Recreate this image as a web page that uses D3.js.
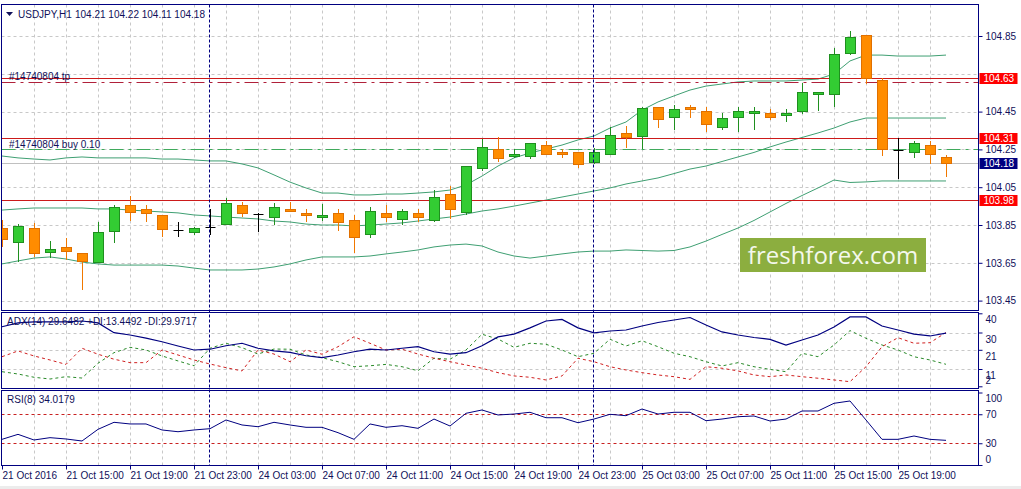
<!DOCTYPE html>
<html>
<head>
<meta charset="utf-8">
<script src="https://cdn.jsdelivr.net/npm/d3@7"></script>
<style>
  body { margin: 0; background: #fff; }
  text { font-family: "Liberation Sans", Arial, sans-serif; font-size: 10px; }
</style>
</head>
<body>
<div id="viz"></div>
<script>
// USDJPY H1, 21 Oct 11:00 .. 25 Oct 22:00 (60 bars)
const open = [103.834, 103.760, 103.834, 103.707, 103.734, 103.702, 103.654, 103.818, 103.956, 103.935,
  103.903, 103.824, 103.813, 103.839, 103.855, 103.956, 103.908, 103.892, 103.935, 103.914,
  103.892, 103.914, 103.876, 103.802, 103.914, 103.882, 103.914, 103.876, 104.014, 103.919,
  104.152, 104.252, 104.215, 104.215, 104.273, 104.236, 104.236, 104.183, 104.226, 104.337,
  104.321, 104.474, 104.421, 104.474, 104.453, 104.369, 104.421, 104.443, 104.443, 104.432,
  104.453, 104.543, 104.543, 104.760, 104.855, 104.617, 104.247, 104.236, 104.273, 104.21]
const high = [103.876, 103.855, 103.861, 103.765, 103.781, 103.702, 103.866, 103.956, 104.003, 103.956,
  103.903, 103.866, 103.839, 103.935, 103.993, 103.972, 103.914, 103.966, 103.972, 103.935,
  103.961, 103.935, 103.903, 103.945, 103.956, 103.935, 103.935, 104.035, 104.056, 104.162,
  104.305, 104.316, 104.252, 104.284, 104.294, 104.252, 104.236, 104.257, 104.369, 104.374,
  104.474, 104.474, 104.485, 104.485, 104.474, 104.443, 104.474, 104.474, 104.464, 104.464,
  104.601, 104.554, 104.787, 104.876, 104.855, 104.628, 104.310, 104.294, 104.294, 104.22]
const low = [103.739, 103.660, 103.686, 103.681, 103.670, 103.511, 103.654, 103.760, 103.876, 103.871,
  103.792, 103.792, 103.802, 103.802, 103.855, 103.898, 103.818, 103.855, 103.924, 103.871,
  103.876, 103.824, 103.707, 103.786, 103.871, 103.855, 103.871, 103.871, 103.887, 103.908,
  104.141, 104.189, 104.210, 104.205, 104.226, 104.210, 104.157, 104.178, 104.226, 104.263,
  104.257, 104.369, 104.358, 104.421, 104.347, 104.358, 104.347, 104.358, 104.411, 104.400,
  104.443, 104.458, 104.480, 104.755, 104.601, 104.220, 104.099, 104.210, 104.178, 104.11]
const close = [103.776, 103.845, 103.702, 103.723, 103.712, 103.660, 103.813, 103.945, 103.919, 103.914,
  103.829, 103.824, 103.834, 103.839, 103.966, 103.914, 103.908, 103.945, 103.924, 103.903,
  103.903, 103.866, 103.786, 103.924, 103.892, 103.924, 103.892, 103.998, 103.935, 104.162,
  104.263, 104.205, 104.226, 104.284, 104.226, 104.226, 104.173, 104.236, 104.326, 104.316,
  104.469, 104.411, 104.464, 104.464, 104.384, 104.416, 104.453, 104.453, 104.421, 104.443,
  104.554, 104.554, 104.755, 104.845, 104.628, 104.252, 104.247, 104.284, 104.226, 104.18]

// Bollinger bands
const bbUpper = [104.215, 104.205, 104.199, 104.194, 104.205, 104.210, 104.205, 104.205, 104.205, 104.205,
  104.199, 104.199, 104.194, 104.189, 104.189, 104.173, 104.152, 104.115, 104.077, 104.046,
  104.019, 104.019, 104.009, 104.009, 104.014, 104.014, 104.019, 104.025, 104.035, 104.062,
  104.109, 104.162, 104.205, 104.231, 104.252, 104.273, 104.300, 104.321, 104.363, 104.395,
  104.458, 104.501, 104.533, 104.564, 104.585, 104.596, 104.607, 104.612, 104.612, 104.612,
  104.617, 104.622, 104.649, 104.718, 104.749, 104.749, 104.744, 104.744, 104.744, 104.749]
const bbMiddle = [103.929, 103.935, 103.940, 103.940, 103.940, 103.940, 103.935, 103.935, 103.929, 103.924,
  103.919, 103.914, 103.903, 103.898, 103.892, 103.887, 103.882, 103.871, 103.866, 103.855,
  103.850, 103.850, 103.845, 103.850, 103.855, 103.861, 103.871, 103.882, 103.892, 103.908,
  103.924, 103.935, 103.950, 103.966, 103.982, 103.998, 104.014, 104.030, 104.046, 104.067,
  104.083, 104.099, 104.122, 104.146, 104.162, 104.186, 104.210, 104.234, 104.263, 104.289,
  104.313, 104.337, 104.363, 104.395, 104.416, 104.416, 104.416, 104.416, 104.416, 104.416]
const bbLower = [103.644, 103.660, 103.675, 103.681, 103.670, 103.654, 103.644, 103.638, 103.638, 103.638,
  103.638, 103.633, 103.622, 103.612, 103.612, 103.612, 103.617, 103.628, 103.644, 103.665,
  103.681, 103.681, 103.681, 103.686, 103.697, 103.707, 103.718, 103.734, 103.744, 103.749,
  103.739, 103.707, 103.686, 103.675, 103.686, 103.697, 103.707, 103.712, 103.712, 103.718,
  103.715, 103.712, 103.715, 103.734, 103.765, 103.800, 103.834, 103.874, 103.919, 103.964,
  104.006, 104.046, 104.088, 104.075, 104.078, 104.083, 104.083, 104.083, 104.083, 104.083]

// ADX(14)
const adx = [33.0, 35.0, 35.5, 35.5, 35.5, 36.0, 35.0, 29.9, 28.7, 27.1,
  25.2, 23.0, 20.9, 21.3, 23.1, 24.4, 21.8, 20.4, 19.7, 17.9,
  16.9, 18.3, 20.0, 21.3, 20.9, 21.8, 22.6, 20.0, 18.8, 19.5,
  23.1, 27.7, 29.2, 32.4, 36.0, 36.8, 32.4, 29.8, 30.8, 31.3,
  33.4, 35.2, 36.5, 37.8, 33.9, 30.3, 28.7, 27.4, 26.4, 23.5,
  26.1, 28.7, 32.9, 38.1, 38.1, 33.4, 31.3, 29.2, 28.2, 29.6482]
const plusDI = [9.6, 8.4, 6.7, 5.8, 7.0, 6.3, 14.0, 19.5, 22.3, 20.9,
  17.8, 15.2, 12.7, 21.8, 24.4, 22.1, 18.8, 21.4, 21.3, 18.3,
  16.9, 14.8, 12.2, 12.7, 13.4, 12.2, 10.1, 16.6, 16.1, 20.9,
  29.1, 26.6, 22.3, 24.4, 23.9, 20.9, 17.4, 19.2, 26.5, 23.0,
  25.7, 22.6, 19.2, 17.4, 14.8, 12.6, 14.3, 12.2, 10.8, 9.6,
  19.2, 17.4, 23.5, 31.0, 27.0, 23.5, 20.9, 17.4, 15.7, 13.4492]
const minusDI = [17.4, 20.4, 17.8, 15.7, 13.4, 21.8, 18.7, 16.1, 14.3, 14.3,
  20.9, 18.3, 15.7, 13.6, 11.7, 10.0, 20.9, 18.8, 14.8, 20.9,
  18.7, 22.6, 27.8, 24.4, 20.9, 21.3, 18.8, 16.6, 14.8, 13.1,
  11.4, 9.1, 7.4, 6.7, 5.3, 7.4, 16.6, 14.8, 12.2, 10.5,
  9.1, 7.9, 7.0, 5.6, 12.2, 11.4, 10.0, 7.9, 7.0, 7.9,
  7.0, 6.2, 5.3, 4.4, 12.2, 22.6, 27.3, 24.4, 24.7, 29.9717]

// RSI(8)
const rsi = [35.4, 42.3, 34.5, 37.7, 35.9, 33.1, 49.2, 58.9, 56.6, 56.6,
  48.3, 45.9, 48.3, 50.1, 62.1, 55.2, 52.8, 58.9, 55.2, 52.0,
  52.0, 44.6, 35.4, 56.6, 52.0, 54.2, 50.6, 63.4, 53.8, 71.3,
  75.9, 69.0, 70.3, 72.7, 65.2, 65.2, 58.3, 63.4, 69.9, 68.0,
  77.2, 70.3, 72.7, 72.7, 61.1, 63.4, 66.6, 67.6, 60.7, 63.4,
  74.5, 74.5, 85.1, 88.3, 62.1, 35.4, 35.4, 40.0, 35.4, 34.0179]

// time axis
const tickBars = [0, 4, 8, 12, 16, 20, 24, 28, 32, 36, 40, 44, 48, 52, 56]
const tickLabels = ["21 Oct 2016", "21 Oct 15:00", "21 Oct 19:00", "21 Oct 23:00", "24 Oct 03:00",
  "24 Oct 07:00", "24 Oct 11:00", "24 Oct 15:00", "24 Oct 19:00", "24 Oct 23:00",
  "25 Oct 03:00", "25 Oct 07:00", "25 Oct 11:00", "25 Oct 15:00", "25 Oct 19:00"]
const daySeparators = [13, 37]

// price scale, horizontal lines and orders
const priceTicks = [104.85, 104.65, 104.45, 104.25, 104.05, 103.85, 103.65, 103.45]
const hLines = [104.63, 104.31, 103.98]
const tpLevel = 104.607
const buyLevel = 104.252
const adxTicks = [40, 30, 21, 11, 2]
const rsiTicks = [100, 70, 30, 0]
const rsiLevels = [70, 30]

// ========================================

const width = 1021
const height = 489
const navy = "#000080"
const txt = "#10105a"

const svg = d3.select("#viz").append("svg")
  .attr("width", width)
  .attr("height", height)

const plotL = 1.5, plotR = 978.5
const panels = {
  main: { top: 4.5, bottom: 310.5 },
  adx: { top: 312.5, bottom: 388.5 },
  rsi: { top: 390.5, bottom: 465.5 }
}

const x = d3.scaleLinear().domain([0, 59]).range([2, 946])
const yPrice = d3.scaleLinear().domain([103.45, 104.85]).range([300.6, 36])
const yAdx = d3.scaleLinear().domain([2, 40]).range([386.3, 313.3])
const yRsi = d3.scaleLinear().domain([0, 100]).range([465, 392.5])
const bars = d3.range(open.length)
const crisp = v => Math.round(v) + 0.5

// light gray strip at the very bottom
svg.append("rect").attr("x", 0).attr("y", 486).attr("width", width).attr("height", 3).attr("fill", "#ececec")

// clip paths for the panels
Object.entries(panels).forEach(([k, p]) => {
  svg.append("clipPath").attr("id", "clip-" + k)
    .append("rect").attr("x", plotL).attr("y", p.top).attr("width", plotR - plotL).attr("height", p.bottom - p.top)
})

// grid
const gridBars = bars.filter(i => i % 2 === 0 && i > 0)
function drawGrid(p, yVals, yScale) {
  const g = svg.append("g").attr("stroke", "#c8c8c8").attr("stroke-dasharray", "3,3").attr("stroke-width", 1)
  g.selectAll("line.v").data(gridBars).enter().append("line")
    .attr("x1", d => crisp(x(d))).attr("x2", d => crisp(x(d)))
    .attr("y1", p.top).attr("y2", p.bottom)
  g.selectAll("line.h").data(yVals).enter().append("line")
    .attr("x1", plotL).attr("x2", plotR)
    .attr("y1", d => crisp(yScale(d))).attr("y2", d => crisp(yScale(d)))
}
drawGrid(panels.main, priceTicks, yPrice)
drawGrid(panels.adx, [30, 21, 11], yAdx)
drawGrid(panels.rsi, [], yRsi)

// ---------- main panel ----------
const mainG = svg.append("g").attr("clip-path", "url(#clip-main)")

// bid line
mainG.append("line")
  .attr("x1", plotL).attr("x2", plotR)
  .attr("y1", crisp(yPrice(close[close.length - 1]))).attr("y2", crisp(yPrice(close[close.length - 1])))
  .attr("stroke", "#c0c0c0")

// Bollinger bands
const bandLine = arr => d3.line().x((d, i) => x(i)).y(d => yPrice(d))(arr)
;[bbUpper, bbMiddle, bbLower].forEach(arr => {
  mainG.append("path").attr("d", bandLine(arr))
    .attr("fill", "none").attr("stroke", "#3f9f72").attr("stroke-width", 1)
})

// horizontal lines
mainG.selectAll("line.hl").data(hLines).enter().append("line")
  .attr("x1", plotL).attr("x2", plotR)
  .attr("y1", d => crisp(yPrice(d))).attr("y2", d => crisp(yPrice(d)))
  .attr("stroke", "#cc1a1a")

// order lines
mainG.append("line")
  .attr("x1", plotL).attr("x2", plotR)
  .attr("y1", crisp(yPrice(tpLevel))).attr("y2", crisp(yPrice(tpLevel)))
  .attr("stroke", "#b0203a").attr("stroke-dasharray", "14,5,3,5")
mainG.append("line")
  .attr("x1", plotL).attr("x2", plotR)
  .attr("y1", crisp(yPrice(buyLevel))).attr("y2", crisp(yPrice(buyLevel)))
  .attr("stroke", "#3faa5c").attr("stroke-dasharray", "14,5,3,5")

mainG.append("text").attr("x", 9).attr("y", 80).attr("fill", txt).text("#14740804 tp")
mainG.append("text").attr("x", 9).attr("y", 148).attr("fill", txt).text("#14740804 buy 0.10")

// candles
const candles = mainG.selectAll("g.candle").data(bars).enter().append("g")
candles.each(function (i) {
  const g = d3.select(this)
  const cx = x(i)
  const up = close[i] > open[i]
  const down = close[i] < open[i]
  const wick = up ? "#1f8f1f" : down ? "#f07800" : "#000"
  g.append("line")
    .attr("x1", cx + 0.5).attr("x2", cx + 0.5)
    .attr("y1", Math.round(yPrice(high[i]))).attr("y2", Math.round(yPrice(low[i])) + 1)
    .attr("stroke", wick)
  if (!up && !down) {
    g.append("line")
      .attr("x1", cx - 4.5).attr("x2", cx + 5.5)
      .attr("y1", crisp(yPrice(open[i]))).attr("y2", crisp(yPrice(open[i])))
      .attr("stroke", "#000")
    return
  }
  const yTop = crisp(yPrice(Math.max(open[i], close[i])))
  const yBot = crisp(yPrice(Math.min(open[i], close[i])))
  g.append("rect")
    .attr("x", cx - 4.5).attr("y", yTop)
    .attr("width", 10).attr("height", Math.max(1, yBot - yTop))
    .attr("fill", up ? "#33cc33" : "#ff8c00")
    .attr("stroke", up ? "#1f8f1f" : "#e07000")
})

// watermark
svg.append("rect").attr("x", 740).attr("y", 238).attr("width", 186).attr("height", 34).attr("fill", "#8cae3f")
svg.append("text").attr("x", 833).attr("y", 264).attr("text-anchor", "middle")
  .style("font-family", "'Open Sans', sans-serif").style("font-size", "24px")
  .attr("fill", "#f4f8ec").text("freshforex.com")

// header
svg.append("path").attr("d", "M6,12 L13,12 L9.5,16 Z").attr("fill", txt)
svg.append("text").attr("x", 18).attr("y", 18).attr("fill", txt).text("USDJPY,H1")
svg.append("text").attr("x", 75).attr("y", 18).attr("fill", txt).text("104.21 104.22 104.11 104.18")

// ---------- ADX panel ----------
const adxG = svg.append("g").attr("clip-path", "url(#clip-adx)")
const adxLine = d3.line().x((d, i) => x(i)).y(d => yAdx(d))
adxG.append("path").attr("d", adxLine(plusDI)).attr("fill", "none")
  .attr("stroke", "#2a8a2a").attr("stroke-dasharray", "3,3")
adxG.append("path").attr("d", adxLine(minusDI)).attr("fill", "none")
  .attr("stroke", "#d02020").attr("stroke-dasharray", "3,3")
adxG.append("path").attr("d", adxLine(adx)).attr("fill", "none")
  .attr("stroke", navy).attr("stroke-width", 1.2)
svg.append("text").attr("x", 7).attr("y", 325).attr("fill", txt)
  .text("ADX(14) 29.6482 +DI:13.4492 -DI:29.9717")

// ---------- RSI panel ----------
const rsiG = svg.append("g").attr("clip-path", "url(#clip-rsi)")
rsiG.selectAll("line.lvl").data(rsiLevels).enter().append("line")
  .attr("x1", plotL).attr("x2", plotR)
  .attr("y1", d => crisp(yRsi(d))).attr("y2", d => crisp(yRsi(d)))
  .attr("stroke", "#c82020").attr("stroke-dasharray", "3,3")
rsiG.append("path")
  .attr("d", d3.line().x((d, i) => x(i)).y(d => yRsi(d))(rsi))
  .attr("fill", "none").attr("stroke", navy).attr("stroke-width", 1)
svg.append("text").attr("x", 7).attr("y", 403).attr("fill", txt).text("RSI(8) 34.0179")

// day separators through all panels
svg.selectAll("line.sep").data(daySeparators).enter().append("line")
  .attr("x1", d => crisp(x(d) - 1)).attr("x2", d => crisp(x(d) - 1))
  .attr("y1", panels.main.top).attr("y2", panels.rsi.bottom)
  .attr("stroke", navy).attr("stroke-dasharray", "3,2")

// panel frames
Object.values(panels).forEach(p => {
  svg.append("rect").attr("x", plotL).attr("y", p.top)
    .attr("width", plotR - plotL).attr("height", p.bottom - p.top)
    .attr("fill", "none").attr("stroke", navy).attr("stroke-width", 1)
})

// ---------- right axes ----------
const markers = [
  ...hLines.map(v => ({ v, fill: "#ff0000" })),
  { v: close[close.length - 1], fill: navy }
]
const priceAxis = d3.axisRight(yPrice)
  .tickValues(priceTicks.filter(t => markers.every(m => Math.abs(yPrice(t) - yPrice(m.v)) > 8)))
  .tickSize(4).tickPadding(3).tickFormat(d3.format(".2f"))
const gp = svg.append("g").attr("transform", `translate(${plotR},0)`).call(priceAxis)

const adxAxis = d3.axisRight(yAdx).tickValues(adxTicks).tickSize(4).tickPadding(3)
const ga = svg.append("g").attr("transform", `translate(${plotR},0)`).call(adxAxis)
ga.selectAll(".tick text").attr("dy", d => d === 2 ? "-0.25em" : "0.95em")

const rsiAxis = d3.axisRight(yRsi).tickValues(rsiTicks).tickSize(4).tickPadding(3)
const gr = svg.append("g").attr("transform", `translate(${plotR},0)`).call(rsiAxis)
gr.selectAll(".tick text").attr("dy", d => d === 100 ? "0.85em" : d === 0 ? "-0.25em" : "0.32em")

;[gp, ga, gr].forEach(g => {
  g.select(".domain").remove()
  g.selectAll(".tick line").attr("stroke", navy)
  g.selectAll(".tick text").attr("fill", txt).style("font-size", "10px")
    .style("font-family", "'Liberation Sans', Arial, sans-serif")
})

// price marker boxes
const mk = svg.selectAll("g.marker").data(markers).enter().append("g")
mk.append("rect")
  .attr("x", plotR + 1).attr("y", d => Math.round(yPrice(d.v)) - 5)
  .attr("width", 38).attr("height", 11).attr("fill", d => d.fill)
mk.append("text")
  .attr("x", plotR + 5).attr("y", d => Math.round(yPrice(d.v)) + 4)
  .attr("fill", "#fff").text(d => d.v.toFixed(2))

// ---------- time axis ----------
const timeAxis = d3.axisBottom(x).tickValues(tickBars)
  .tickFormat((d, i) => tickLabels[i]).tickSize(4).tickPadding(2)
const gt = svg.append("g").attr("transform", `translate(0,${panels.rsi.bottom})`).call(timeAxis)
gt.select(".domain").remove()
gt.selectAll(".tick line").attr("stroke", navy)
gt.selectAll(".tick text").attr("text-anchor", "start").attr("fill", txt)
  .style("font-size", "10px").style("font-family", "'Liberation Sans', Arial, sans-serif")
</script>
</body>
</html>
